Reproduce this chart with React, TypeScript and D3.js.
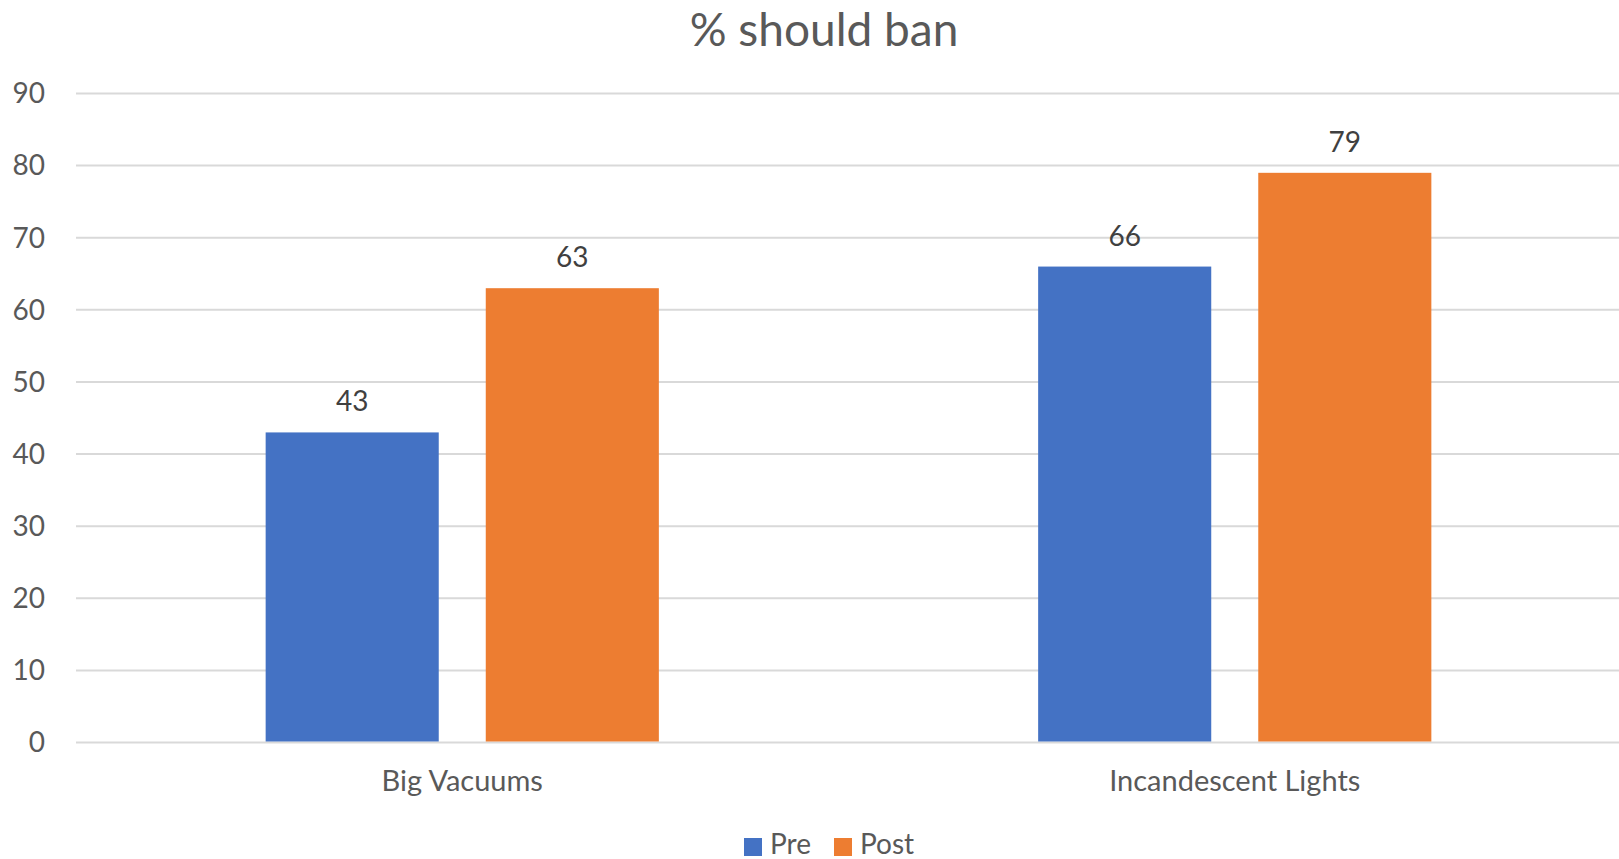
import React from "react";
import * as d3 from "d3";

const categories = ["Big Vacuums", "Incandescent Lights"];
const seriesNames = ["Pre", "Post"];
const preValues = [43, 66];
const postValues = [63, 79];
const yTicks = [0, 10, 20, 30, 40, 50, 60, 70, 80, 90];
const title = "% should ban";

const W = 1619;
const H = 859;
const colors = ["#4472C4", "#ED7D31"];
const FONT = "Lato, 'Open Sans', sans-serif";

export default function App() {
  const plotLeft = 76;
  const plotRight = 1621;
  const y = d3.scaleLinear().domain([0, 90]).range([742.5, 93.5]);
  const x0 = d3
    .scaleBand<string>()
    .domain(categories)
    .range([plotLeft, plotRight])
    .paddingInner(0.491)
    .paddingOuter(0.2455);
  const x1 = d3
    .scaleBand<string>()
    .domain(seriesNames)
    .range([0, x0.bandwidth()])
    .paddingInner(0.2136)
    .paddingOuter(0);
  const values = [preValues, postValues];

  return (
    <svg
      width={W}
      height={H}
      style={{ position: "absolute", left: 0, top: 0, background: "#fff" }}
      fontFamily={FONT}
    >
      <rect x={0} y={0} width={W} height={H} fill="#fff" />
      <text x={824} y={46} textAnchor="middle" fontSize={46} fill="#595959">
        {title}
      </text>
      {yTicks.map((t) => (
        <g key={t}>
          <line
            x1={plotLeft}
            x2={W}
            y1={y(t)}
            y2={y(t)}
            stroke="#D9D9D9"
            strokeWidth={2}
          />
          <text
            x={45}
            y={y(t)}
            dy="0.35em"
            textAnchor="end"
            fontSize={28}
            fill="#595959"
          >
            {t}
          </text>
        </g>
      ))}
      {categories.map((c, ci) => (
        <g key={c}>
          {seriesNames.map((s, si) => {
            const v = values[si][ci];
            const bx = (x0(c) as number) + (x1(s) as number);
            const bw = x1.bandwidth();
            return (
              <g key={s}>
                <rect
                  x={bx}
                  y={y(v)}
                  width={bw}
                  height={y(0) - y(v) - 1}
                  fill={colors[si]}
                />
                <text
                  x={bx + bw / 2}
                  y={y(v) - 21}
                  textAnchor="middle"
                  fontSize={28}
                  fill="#404040"
                >
                  {v}
                </text>
              </g>
            );
          })}
          <text
            x={(x0(c) as number) + x0.bandwidth() / 2}
            y={791}
            textAnchor="middle"
            fontSize={29}
            fill="#595959"
          >
            {c}
          </text>
        </g>
      ))}
      {seriesNames.map((s, si) => {
        const lx = si === 0 ? 744 : 834;
        return (
          <g key={s}>
            <rect x={lx} y={838} width={18} height={18} fill={colors[si]} />
            <text x={lx + 26} y={854} fontSize={28} fill="#595959">
              {s}
            </text>
          </g>
        );
      })}
    </svg>
  );
}
